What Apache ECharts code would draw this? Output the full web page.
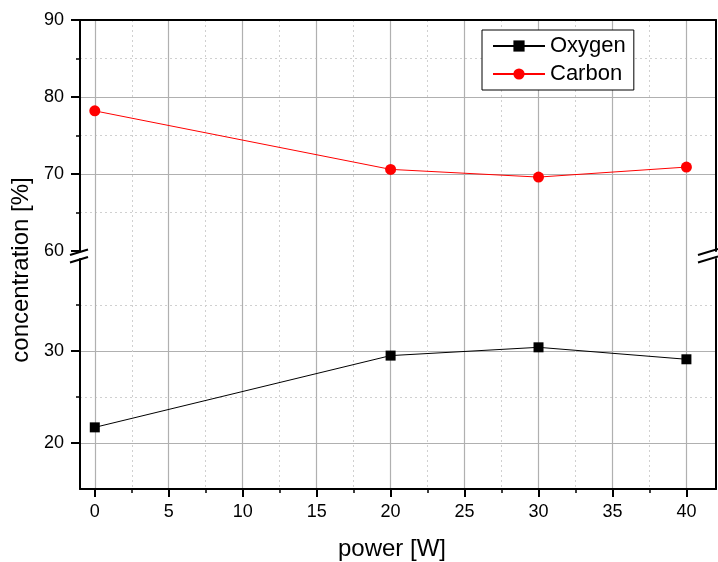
<!DOCTYPE html>
<html>
<head>
<meta charset="utf-8">
<script src="https://cdn.jsdelivr.net/npm/echarts@6/dist/echarts.min.js"></script>
<style>
  html, body { margin: 0; padding: 0; background: #fff; }
  #chart { width: 718px; height: 562px; }
</style>
</head>
<body>
<div id="chart"></div>
<script>
// data
var powers = [0, 20, 30, 40];
var oxygen = [21.7, 29.5, 30.4, 29.1];
var carbon = [78.2, 70.6, 69.6, 70.9];

// tick values
var xMajor = [0, 5, 10, 15, 20, 25, 30, 35, 40];
var xMinor = [2.5, 7.5, 12.5, 17.5, 22.5, 27.5, 32.5, 37.5];
var upMajor = [60, 70, 80, 90];
var upGrid = [70, 80];
var upMinor = [65, 75, 85];
var lowMajor = [20, 30];
var lowMinor = [25, 35];

var X_MIN = -1, X_MAX = 42;
var FONT = 'Liberation Sans, Arial, sans-serif';
var majorLine = { color: '#b0b0b0', width: 1.2 };
var minorLine = { color: '#d0d0d0', width: 1, type: [2, 3] };
var axisBlack = { color: '#000', width: 2 };

function pairs(ys) {
    var out = [];
    for (var i = 0; i < powers.length; i++) out.push([powers[i], ys[i]]);
    return out;
}

// helper: an axis that only draws split lines / ticks at custom values
function helperAxis(base, values, opts) {
    var a = {
        axisLine: { show: false, onZero: false },
        axisTick: { show: !!opts.tick, customValues: values, length: opts.tick || 0,
                    lineStyle: { color: '#000', width: 1.5 } },
        axisLabel: { show: false },
        splitLine: { show: !!opts.split, lineStyle: opts.split }
    };
    for (var k in base) a[k] = base[k];
    return a;
}

var chart = echarts.init(document.getElementById('chart'), null, { renderer: 'canvas' });

var option = {
    animation: false,
    grid: [
        { left: 80, right: 2, top: 20, bottom: 73 },   // full frame: x axis + vertical grid
        { left: 80, right: 2, top: 20, bottom: 311 },  // upper 60-90
        { left: 80, right: 2, top: 259, bottom: 73 }   // lower 15-40
    ],
    xAxis: [
        {   // 0 bottom axis with labels
            type: 'value', gridIndex: 0, position: 'bottom', min: X_MIN, max: X_MAX,
            axisLine: { show: true, onZero: false, lineStyle: axisBlack },
            axisTick: { show: true, customValues: xMajor, length: 8, lineStyle: { color: '#000', width: 2 } },
            axisLabel: { show: true, customValues: xMajor, margin: 14, color: '#000', fontSize: 18, fontFamily: FONT },
            splitLine: { show: true, lineStyle: majorLine }
        },
        helperAxis({ type: 'value', gridIndex: 0, position: 'bottom', min: X_MIN, max: X_MAX }, xMinor,
                   { tick: 4, split: minorLine }),
        {   // 2 top frame line
            type: 'value', gridIndex: 0, position: 'top', min: X_MIN, max: X_MAX,
            axisLine: { show: true, onZero: false, lineStyle: axisBlack },
            axisTick: { show: false }, axisLabel: { show: false }, splitLine: { show: false }
        },
        { type: 'value', gridIndex: 1, min: X_MIN, max: X_MAX, show: false },
        { type: 'value', gridIndex: 2, min: X_MIN, max: X_MAX, show: false }
    ],
    yAxis: [
        { type: 'value', gridIndex: 0, min: 0, max: 1, show: false },
        {   // 1 upper left axis
            type: 'value', gridIndex: 1, position: 'left', min: 60, max: 90,
            axisLine: { show: true, onZero: false, lineStyle: axisBlack },
            axisTick: { show: true, customValues: upMajor, length: 9, lineStyle: { color: '#000', width: 2 } },
            axisLabel: { show: true, customValues: upMajor, margin: 16, color: '#000', fontSize: 18, fontFamily: FONT },
            splitLine: { show: false }
        },
        helperAxis({ type: 'value', gridIndex: 1, position: 'left', min: 60, max: 90 }, upGrid,
                   { split: majorLine }),
        helperAxis({ type: 'value', gridIndex: 1, position: 'left', min: 60, max: 90 }, upMinor,
                   { tick: 4, split: minorLine }),
        {   // 4 upper right frame
            type: 'value', gridIndex: 1, position: 'right', min: 60, max: 90,
            axisLine: { show: true, onZero: false, lineStyle: axisBlack },
            axisTick: { show: false }, axisLabel: { show: false }, splitLine: { show: false }
        },
        {   // 5 lower left axis
            type: 'value', gridIndex: 2, position: 'left', min: 15, max: 40,
            axisLine: { show: true, onZero: false, lineStyle: axisBlack },
            axisTick: { show: true, customValues: lowMajor, length: 9, lineStyle: { color: '#000', width: 2 } },
            axisLabel: { show: true, customValues: lowMajor, margin: 16, color: '#000', fontSize: 18, fontFamily: FONT },
            splitLine: { show: true, lineStyle: majorLine }
        },
        helperAxis({ type: 'value', gridIndex: 2, position: 'left', min: 15, max: 40 }, lowMinor,
                   { tick: 4, split: minorLine }),
        {   // 7 lower right frame
            type: 'value', gridIndex: 2, position: 'right', min: 15, max: 40,
            axisLine: { show: true, onZero: false, lineStyle: axisBlack },
            axisTick: { show: false }, axisLabel: { show: false }, splitLine: { show: false }
        }
    ],
    legend: {
        orient: 'vertical', left: 482, top: 30,
        backgroundColor: '#fff', borderColor: '#000', borderWidth: 1,
        padding: [5, 8, 5, 10], itemGap: 6, itemWidth: 52, itemHeight: 14,
        textStyle: { color: '#000', fontSize: 22, fontFamily: FONT },
        data: ['Oxygen', 'Carbon']
    },
    series: [
        {
            name: 'Oxygen', type: 'line', xAxisIndex: 4, yAxisIndex: 5,
            data: pairs(oxygen), symbol: 'rect', symbolSize: 10,
            lineStyle: { color: '#000', width: 1 }, itemStyle: { color: '#000' }, z: 5
        },
        {
            name: 'Carbon', type: 'line', xAxisIndex: 3, yAxisIndex: 1,
            data: pairs(carbon), symbol: 'circle', symbolSize: 11,
            lineStyle: { color: '#ff0000', width: 1 }, itemStyle: { color: '#ff0000' }, z: 5
        }
    ],
    graphic: [
        // axis break marks
        { type: 'line', shape: { x1: 70, y1: 255, x2: 88, y2: 249.5 }, style: { stroke: '#000', lineWidth: 2 }, z: 10 },
        { type: 'line', shape: { x1: 70, y1: 262.5, x2: 88, y2: 257 }, style: { stroke: '#000', lineWidth: 2 }, z: 10 },
        { type: 'line', shape: { x1: 698, y1: 255, x2: 718, y2: 249 }, style: { stroke: '#000', lineWidth: 2 }, z: 10 },
        { type: 'line', shape: { x1: 698, y1: 262.5, x2: 718, y2: 256.5 }, style: { stroke: '#000', lineWidth: 2 }, z: 10 },
        // axis titles
        {
            type: 'text', x: 21, y: 270, rotation: Math.PI / 2,
            style: { text: 'concentration [%]', fill: '#000', fontSize: 24, fontFamily: FONT,
                     align: 'center', verticalAlign: 'middle' }
        },
        {
            type: 'text', x: 392, y: 549,
            style: { text: 'power [W]', fill: '#000', fontSize: 24, fontFamily: FONT,
                     align: 'center', verticalAlign: 'middle' }
        }
    ]
};

chart.setOption(option);
</script>
</body>
</html>
